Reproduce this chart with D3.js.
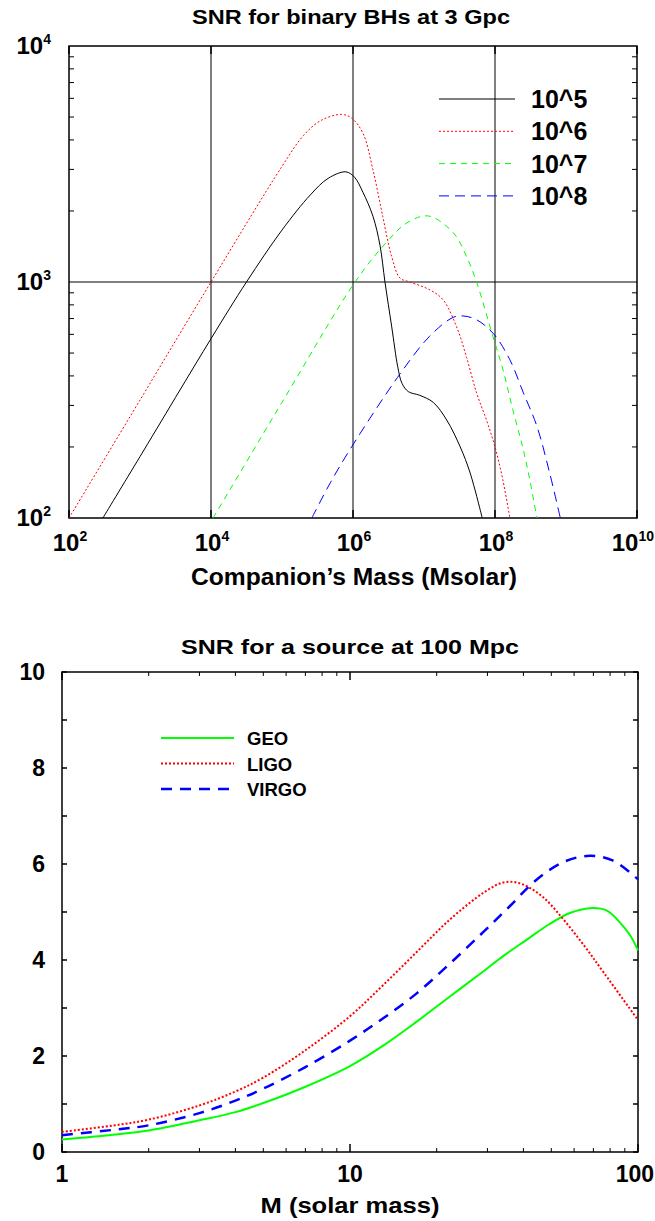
<!DOCTYPE html>
<html>
<head>
<meta charset="utf-8">
<script src="https://cdn.jsdelivr.net/npm/d3@7"></script>
<style>
  body { margin: 0; background: #fff; }
  text { font-family: "Liberation Sans", Arial, Helvetica, sans-serif; font-weight: bold; fill: #000; }
</style>
</head>
<body>
<div id="viz"></div>
<script>
// ── DATA ─────────────────────────────────────────────────────────────────────
// top panel: companion mass (Msolar) vs SNR, one curve per BH mass
const massBH5 = [3.0e2, 1.0e3, 1.0e4, 3.16e4, 1.0e5, 2.51e5, 4.47e5, 7.94e5, 1.05e6, 1.38e6, 1.91e6,
                 2.40e6, 2.82e6, 3.51e6, 4.27e6, 4.90e6, 6.03e6, 8.71e6, 1.35e7, 2.09e7, 3.24e7, 4.47e7, 6.61e7];
const snrBH5  = [100, 182, 575, 1000, 1660, 2340, 2750, 2930, 2780, 2400, 1900,
                 1430, 1000, 646, 437, 372, 343, 331, 309, 260, 200, 155, 100];

const massBH6 = [1.0e2, 1.0e3, 1.0e4, 1.0e5, 2.0e5, 3.55e5, 6.92e5, 9.55e5, 1.38e6, 1.91e6, 2.63e6, 3.51e6,
                 4.57e6, 6.31e6, 1.22e7, 1.86e7, 2.88e7, 3.98e7, 5.50e7, 7.59e7, 1.0e8, 1.29e8, 1.62e8];
const snrBH6  = [100, 316, 1000, 3090, 4170, 4840, 5130, 4950, 4270, 2990, 1890, 1280,
                 1040, 1000, 925, 840, 646, 479, 339, 260, 200, 145, 100];

const massBH7 = [1.07e4, 1.0e5, 1.07e6, 2.82e6, 5.75e6, 1.15e7, 2.57e7, 3.98e7, 5.50e7, 9.33e7,
                 1.29e8, 1.78e8, 2.45e8, 3.09e8, 3.89e8];
const snrBH7  = [100, 309, 1000, 1450, 1780, 1905, 1620, 1280, 1000, 589, 427, 288, 200, 145, 100];

const massBH8 = [2.63e5, 4.79e5, 9.55e5, 4.57e6, 1.20e7, 2.57e7, 3.55e7, 5.50e7, 9.55e7, 1.62e8,
                 2.51e8, 3.89e8, 5.89e8, 8.32e8];
const snrBH8  = [100, 141, 200, 407, 589, 708, 718, 692, 603, 468, 339, 245, 155, 100];

const topLabels = ["10^5", "10^6", "10^7", "10^8"];
const topXTicks = [1e2, 1e4, 1e6, 1e8, 1e10];
const topYTicks = [1e2, 1e3, 1e4];

// bottom panel: total mass (solar mass) vs SNR at 100 Mpc
const massGEO = [1, 1.5, 2, 3, 4, 5, 7, 10, 13, 17, 22, 29, 34, 41, 49, 58, 68, 78, 86, 94, 100];
const snrGEO  = [0.26, 0.36, 0.45, 0.66, 0.83, 1.02, 1.36, 1.79, 2.21, 2.71, 3.22, 3.76, 4.08, 4.42, 4.74,
                 4.98, 5.08, 5.03, 4.80, 4.51, 4.20];
const massLIGO = [1, 1.5, 2, 3, 4, 5, 7, 10, 13, 17, 22, 27.5, 30.5, 33, 36, 40, 47, 55, 65, 76, 100];
const snrLIGO  = [0.42, 0.55, 0.675, 0.97, 1.26, 1.55, 2.12, 2.83, 3.47, 4.16, 4.82, 5.30, 5.48, 5.59, 5.63,
                  5.57, 5.30, 4.85, 4.30, 3.74, 2.75];
const massVIRGO = [1, 1.5, 2, 3, 4, 5, 7, 10, 13, 17, 22, 29, 36, 44, 55, 68, 82, 100];
const snrVIRGO  = [0.35, 0.46, 0.556, 0.81, 1.07, 1.32, 1.77, 2.32, 2.78, 3.30, 3.90, 4.58, 5.13, 5.65, 6.04,
                   6.17, 6.07, 5.68];

const bottomLabels = ["GEO", "LIGO", "VIRGO"];
const bottomXTicks = [1, 10, 100];
const bottomYTicks = [0, 2, 4, 6, 8, 10];

// ── SETTINGS ────────────────────────────────────────────────────────────────
const width = 655, height = 1221;
const svg = d3.select("#viz").append("svg")
    .attr("width", width)
    .attr("height", height)
    .attr("viewBox", [0, 0, width, height]);

const zip = (xs, ys) => xs.map((v, i) => [v, ys[i]]);

// labels in the original are a bit wider than the plain font, so stretch them
function wideText(g, x, y, size, len, str) {
  return g.append("text")
      .attr("x", x - len / 2).attr("y", y)
      .attr("font-size", size)
      .attr("textLength", len)
      .attr("lengthAdjust", "spacingAndGlyphs")
      .text(str);
}

// ── TOP PANEL ───────────────────────────────────────────────────────────────
const xTop = d3.scaleLog().domain([1e2, 1e10]).range([69, 637]);
const yTop = d3.scaleLog().domain([1e2, 1e4]).range([518, 46]);

const gTop = svg.append("g");

wideText(gTop, 351, 24, 20, 318, "SNR for binary BHs at 3 Gpc");

// grid lines at the labelled decades
gTop.selectAll("line.vgrid")
  .data([1e4, 1e6, 1e8])
  .join("line")
    .attr("x1", d => xTop(d)).attr("x2", d => xTop(d))
    .attr("y1", yTop(1e2)).attr("y2", yTop(1e4))
    .attr("stroke", "#000").attr("stroke-width", 1);

gTop.append("line")
    .attr("x1", xTop(1e2)).attr("x2", xTop(1e10))
    .attr("y1", yTop(1e3)).attr("y2", yTop(1e3))
    .attr("stroke", "#000").attr("stroke-width", 1);

// minor log ticks on both y sides
const minorTop = [];
[1e2, 1e3].forEach(dec => { for (let k = 2; k <= 9; k++) minorTop.push(dec * k); });
gTop.selectAll("path.ytick")
  .data(minorTop)
  .join("path")
    .attr("d", d => `M${xTop(1e2)},${yTop(d)}h5M${xTop(1e10)},${yTop(d)}h-5`)
    .attr("stroke", "#000").attr("stroke-width", 1);

gTop.selectAll("path.xtick")
  .data(topXTicks)
  .join("path")
    .attr("d", d => `M${xTop(d)},${yTop(1e2)}v-8M${xTop(d)},${yTop(1e4)}v8`)
    .attr("stroke", "#000").attr("stroke-width", 1.5);

gTop.append("rect")
    .attr("x", xTop(1e2)).attr("y", yTop(1e4))
    .attr("width", xTop(1e10) - xTop(1e2)).attr("height", yTop(1e2) - yTop(1e4))
    .attr("fill", "none").attr("stroke", "#000").attr("stroke-width", 1.5);

// power-of-ten labels
function powLabel(sel, exp, big, small) {
  sel.append("tspan").attr("font-size", big).text("10");
  sel.append("tspan").attr("font-size", small).attr("dy", -big * 0.42).text(exp);
}

topYTicks.forEach(v => {
  const t = gTop.append("text")
      .attr("x", 51).attr("y", yTop(v) + 8)
      .attr("text-anchor", "end");
  powLabel(t, Math.round(Math.log10(v)), 24, 14);
});

topXTicks.forEach((v, i) => {
  const last = i === topXTicks.length - 1;
  const t = gTop.append("text")
      .attr("x", last ? 654 : xTop(v) + 1).attr("y", 551)
      .attr("text-anchor", last ? "end" : "middle");
  powLabel(t, Math.round(Math.log10(v)), 24, 14);
});

wideText(gTop, 354, 585, 23, 326, "Companion\u2019s Mass (Msolar)");

const topSeries = [
  { data: zip(massBH5, snrBH5), color: "#000", dash: null },
  { data: zip(massBH6, snrBH6), color: "#ff0000", dash: "2,2" },
  { data: zip(massBH7, snrBH7), color: "#00ff00", dash: "6,5" },
  { data: zip(massBH8, snrBH8), color: "#0000ff", dash: "10,6" }
];

const lineTop = d3.line()
    .x(d => xTop(d[0]))
    .y(d => yTop(d[1]))
    .curve(d3.curveCatmullRom.alpha(0.5));

gTop.selectAll("path.series")
  .data(topSeries)
  .join("path")
    .attr("d", d => lineTop(d.data))
    .attr("fill", "none")
    .attr("stroke", d => d.color)
    .attr("stroke-width", 1)
    .attr("stroke-dasharray", d => d.dash);

const legTop = gTop.selectAll("g.leg")
  .data(topSeries)
  .join("g")
    .attr("transform", (d, i) => `translate(0,${99 + i * 32.3})`);

legTop.append("line")
    .attr("x1", 439).attr("x2", 515)
    .attr("stroke", d => d.color).attr("stroke-width", 1)
    .attr("stroke-dasharray", d => d.dash);

legTop.append("text")
    .attr("x", 531).attr("y", 9)
    .attr("font-size", 25)
    .text((d, i) => topLabels[i]);

// ── BOTTOM PANEL ────────────────────────────────────────────────────────────
const xBot = d3.scaleLog().domain([1, 100]).range([62, 638]);
const yBot = d3.scaleLinear().domain([0, 10]).range([1152, 672]);

const gBot = svg.append("g");

wideText(gBot, 350, 654, 20.5, 338, "SNR for a source at 100 Mpc");

const minorBot = [];
[1, 10].forEach(dec => { for (let k = 2; k <= 9; k++) minorBot.push(dec * k); });

gBot.selectAll("path.xminor")
  .data(minorBot)
  .join("path")
    .attr("d", d => `M${xBot(d)},${yBot(0)}v-4M${xBot(d)},${yBot(10)}v4`)
    .attr("stroke", "#000").attr("stroke-width", 1);

gBot.selectAll("path.xmajor")
  .data(bottomXTicks)
  .join("path")
    .attr("d", d => `M${xBot(d)},${yBot(0)}v-8M${xBot(d)},${yBot(10)}v8`)
    .attr("stroke", "#000").attr("stroke-width", 1.5);

gBot.selectAll("path.ytick")
  .data(d3.range(0, 11))
  .join("path")
    .attr("d", d => `M${xBot(1)},${yBot(d)}h5M${xBot(100)},${yBot(d)}h-5`)
    .attr("stroke", "#000").attr("stroke-width", 1.5);

gBot.append("rect")
    .attr("x", xBot(1)).attr("y", yBot(10))
    .attr("width", xBot(100) - xBot(1)).attr("height", yBot(0) - yBot(10))
    .attr("fill", "none").attr("stroke", "#000").attr("stroke-width", 1.5);

gBot.selectAll("text.ylab")
  .data(bottomYTicks)
  .join("text")
    .attr("x", 45).attr("y", d => yBot(d) + 8)
    .attr("text-anchor", "end")
    .attr("font-size", 23)
    .text(d => d);

gBot.selectAll("text.xlab")
  .data(bottomXTicks)
  .join("text")
    .attr("x", (d, i) => i === bottomXTicks.length - 1 ? 654 : xBot(d))
    .attr("y", 1182)
    .attr("text-anchor", (d, i) => i === bottomXTicks.length - 1 ? "end" : "middle")
    .attr("font-size", 23)
    .text(d => d);

wideText(gBot, 350, 1213, 22, 179, "M (solar mass)");

const botSeries = [
  { data: zip(massGEO, snrGEO), color: "#00ff00", dash: null, w: 2 },
  { data: zip(massLIGO, snrLIGO), color: "#ff0000", dash: "2,2", w: 2 },
  { data: zip(massVIRGO, snrVIRGO), color: "#0000ff", dash: "11,8", w: 2.5 }
];

const lineBot = d3.line()
    .x(d => xBot(d[0]))
    .y(d => yBot(d[1]))
    .curve(d3.curveCatmullRom.alpha(0.5));

gBot.selectAll("path.series")
  .data(botSeries)
  .join("path")
    .attr("d", d => lineBot(d.data))
    .attr("fill", "none")
    .attr("stroke", d => d.color)
    .attr("stroke-width", d => d.w)
    .attr("stroke-dasharray", d => d.dash);

const legBot = gBot.selectAll("g.leg")
  .data(botSeries)
  .join("g")
    .attr("transform", (d, i) => `translate(0,${738 + i * 25.5})`);

legBot.append("line")
    .attr("x1", 161).attr("x2", 234)
    .attr("stroke", d => d.color).attr("stroke-width", d => d.w)
    .attr("stroke-dasharray", d => d.dash);

legBot.append("text")
    .attr("x", 247).attr("y", 7)
    .attr("font-size", 18.5)
    .text((d, i) => bottomLabels[i]);
</script>
</body>
</html>
